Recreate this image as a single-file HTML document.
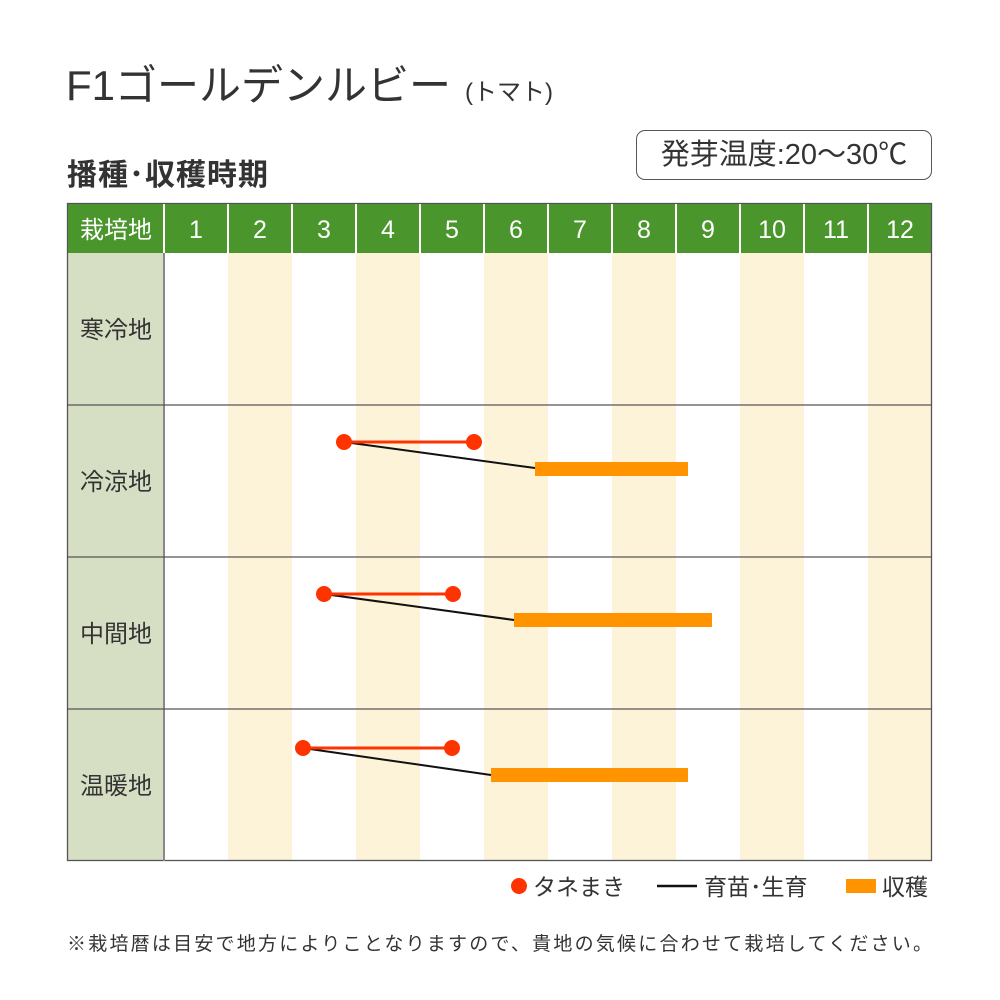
<!DOCTYPE html>
<html><head><meta charset="utf-8"><style>
body{margin:0;width:1000px;height:1000px;background:#fff;position:relative;overflow:hidden;font-family:"Liberation Sans","Noto Sans CJK JP",sans-serif;color:#333}
.t{position:absolute;white-space:nowrap}
</style></head><body>
<div class="t" style="left:66px;top:61px;font-size:42px;line-height:50px;color:#333">F1ゴールデンルビー<span style="font-size:24px;margin-left:14px">(トマト)</span></div>
<div class="t" style="left:67px;top:156px;font-size:30px;line-height:40px;font-weight:bold;color:#333;letter-spacing:1px">播種･収穫時期</div>
<div class="t" style="left:636px;top:130px;width:294px;height:48px;border:1px solid #555;border-radius:9px;font-size:29px;line-height:48px;text-align:center">発芽温度:20〜30℃</div>
<svg style="position:absolute;left:0;top:0" width="1000" height="1000">
<rect x="67" y="203" width="865" height="50" fill="#4a962d"/>
<rect x="67" y="253" width="97" height="608" fill="#d6dfc4"/>
<g fill="#fdf3d8">
<rect x="228" y="253" width="64" height="608"/><rect x="356" y="253" width="64" height="608"/>
<rect x="484" y="253" width="64" height="608"/><rect x="612" y="253" width="64" height="608"/>
<rect x="740" y="253" width="64" height="608"/><rect x="868" y="253" width="64" height="608"/>
</g>
<g stroke="#fff" stroke-width="2">
<line x1="164" y1="203" x2="164" y2="253"/><line x1="228" y1="203" x2="228" y2="253"/><line x1="292" y1="203" x2="292" y2="253"/><line x1="356" y1="203" x2="356" y2="253"/><line x1="420" y1="203" x2="420" y2="253"/><line x1="484" y1="203" x2="484" y2="253"/><line x1="548" y1="203" x2="548" y2="253"/><line x1="612" y1="203" x2="612" y2="253"/><line x1="676" y1="203" x2="676" y2="253"/><line x1="740" y1="203" x2="740" y2="253"/><line x1="804" y1="203" x2="804" y2="253"/><line x1="868" y1="203" x2="868" y2="253"/>
</g>
<g stroke="#555" stroke-width="1.3" fill="none">
<rect x="67.5" y="203.5" width="864" height="657"/>
<line x1="164" y1="253" x2="164" y2="861" stroke="#888" stroke-width="2"/>
<line x1="67" y1="405" x2="932" y2="405"/><line x1="67" y1="557" x2="932" y2="557"/><line x1="67" y1="709" x2="932" y2="709"/>
</g>
<g font-size="25" fill="#fff" text-anchor="middle" font-family="Liberation Sans,sans-serif">
<text x="196" y="238">1</text><text x="260" y="238">2</text><text x="324" y="238">3</text><text x="388" y="238">4</text><text x="452" y="238">5</text><text x="516" y="238">6</text><text x="580" y="238">7</text><text x="644" y="238">8</text><text x="708" y="238">9</text><text x="772" y="238">10</text><text x="836" y="238">11</text><text x="900" y="238">12</text>
</g>
<text x="116" y="238" font-size="24" fill="#fff" text-anchor="middle" font-family="Noto Sans CJK JP,sans-serif">栽培地</text>
<g font-size="24" fill="#333" text-anchor="middle" font-family="Noto Sans CJK JP,sans-serif">
<text x="116" y="338">寒冷地</text><text x="116" y="490">冷涼地</text><text x="116" y="642">中間地</text><text x="116" y="794">温暖地</text>
</g>
<g>
<rect x="535" y="462" width="153" height="14" fill="#ff9400"/>
<line x1="344" y1="442" x2="535" y2="468" stroke="#111" stroke-width="2"/>
<line x1="344" y1="442" x2="474" y2="442" stroke="#ff3300" stroke-width="3"/>
<circle cx="344" cy="442" r="8" fill="#ff3300"/><circle cx="474" cy="442" r="8" fill="#ff3300"/>
<rect x="514" y="613" width="198" height="14" fill="#ff9400"/>
<line x1="324" y1="594" x2="514" y2="620" stroke="#111" stroke-width="2"/>
<line x1="324" y1="594" x2="453" y2="594" stroke="#ff3300" stroke-width="3"/>
<circle cx="324" cy="594" r="8" fill="#ff3300"/><circle cx="453" cy="594" r="8" fill="#ff3300"/>
<rect x="491" y="768" width="197" height="14" fill="#ff9400"/>
<line x1="303" y1="748" x2="491" y2="775" stroke="#111" stroke-width="2"/>
<line x1="303" y1="748" x2="452" y2="748" stroke="#ff3300" stroke-width="3"/>
<circle cx="303" cy="748" r="8" fill="#ff3300"/><circle cx="452" cy="748" r="8" fill="#ff3300"/>
</g>
<circle cx="519" cy="886" r="8" fill="#ff3300"/>
<line x1="657" y1="886" x2="697" y2="886" stroke="#111" stroke-width="2.5"/>
<rect x="846" y="879" width="30" height="14" fill="#ff9400"/>
<g font-size="23" fill="#333" font-family="Noto Sans CJK JP,sans-serif">
<text x="533" y="895">タネまき</text><text x="704" y="895">育苗･生育</text><text x="882" y="895">収穫</text>
</g>
<text x="67" y="950" font-size="19" fill="#333" font-family="Noto Sans CJK JP,sans-serif" textLength="865">※栽培暦は目安で地方によりことなりますので、貴地の気候に合わせて栽培してください。</text>
</svg>
</body></html>
